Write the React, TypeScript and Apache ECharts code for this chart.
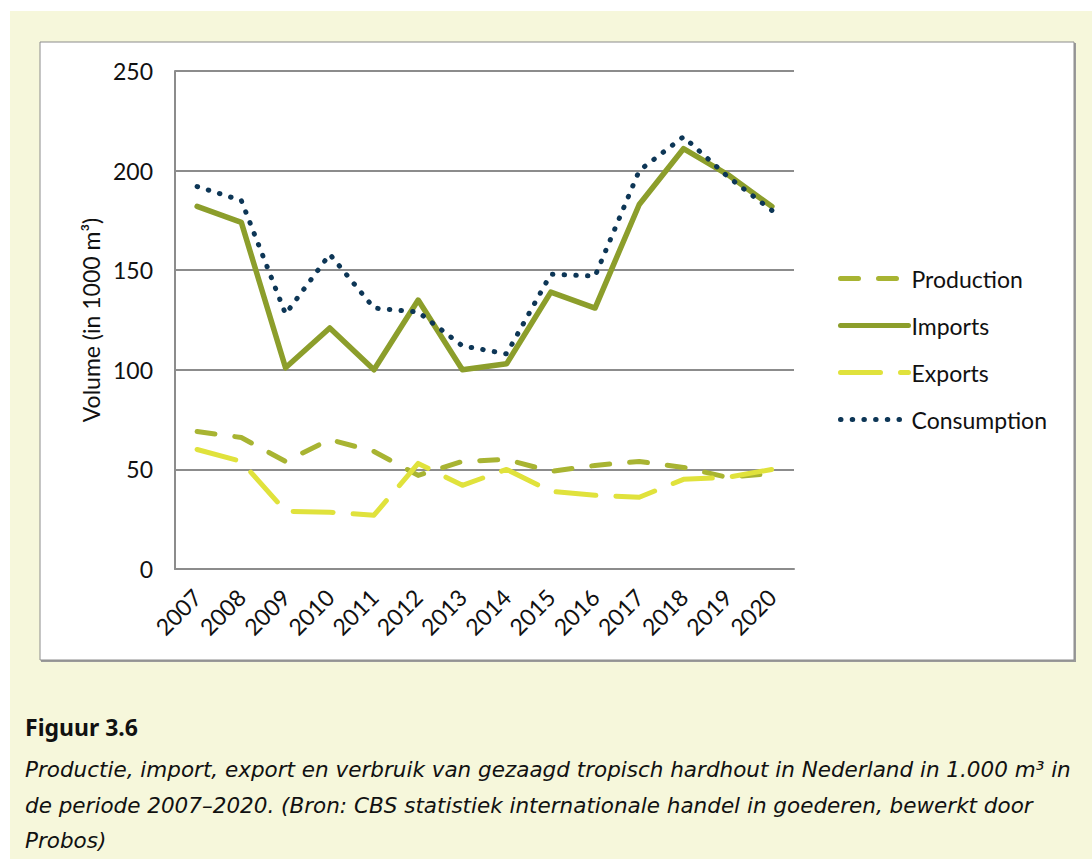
import React, { useEffect, useRef } from "react";
import * as echarts from "echarts";

const years = ["2007","2008","2009","2010","2011","2012","2013","2014","2015","2016","2017","2018","2019","2020"];
const production = [69, 66, 54, 65, 59, 47, 54, 55, 49, 52, 54, 51, 46, 48];
const imports = [182, 174, 101, 121, 100, 135, 100, 103, 139, 131, 183, 211, 198, 182];
const exportsData = [60, 54, 29, 28.5, 27, 53, 42, 50, 39, 37, 36, 45, 46, 50];
const consumption = [192, 185, 128, 158, 131, 129, 112, 108, 148, 147, 200, 217, 197, 180];

const chartFont = "Lato, 'Noto Sans', sans-serif";
const captionFont = "'DejaVu Sans', 'Noto Sans', sans-serif";

export default function App() {
  const ref = useRef<HTMLDivElement>(null);
  useEffect(() => {
    if (!ref.current) return;
    const chart = echarts.init(ref.current, undefined, { renderer: "svg" });
    chart.setOption({
      animation: false,
      backgroundColor: "#ffffff",
      textStyle: { fontFamily: chartFont },
      graphic: [
        { type: "rect", z: -10, shape: { x: 10, y: 11, width: 1082, height: 848 }, style: { fill: "#F6F7DB" } },
        { type: "rect", z: -9, shape: { x: 41, y: 43, width: 1035, height: 619 }, style: { fill: "#9a9a9a" } },
        { type: "rect", z: -8, shape: { x: 40, y: 42, width: 1034, height: 618 }, style: { fill: "#ffffff", stroke: "#8c8c8c", lineWidth: 1 } },
        { type: "text", x: 25, y: 727, style: { text: "Figuur 3.6", font: "bold 23px 'Noto Sans', sans-serif", fill: "#111", verticalAlign: "middle" } },
        { type: "text", x: 25, y: 769, style: { text: "Productie, import, export en verbruik van gezaagd tropisch hardhout in Nederland in 1.000 m³ in", font: "oblique 21.5px " + captionFont, fill: "#111", verticalAlign: "middle" } },
        { type: "text", x: 25, y: 805, style: { text: "de periode 2007–2020. (Bron: CBS statistiek internationale handel in goederen, bewerkt door", font: "oblique 21.5px " + captionFont, fill: "#111", verticalAlign: "middle" } },
        { type: "text", x: 25, y: 840, style: { text: "Probos)", font: "oblique 21.5px " + captionFont, fill: "#111", verticalAlign: "middle" } },
      ],
      grid: { left: 175, top: 71, width: 619, height: 498, containLabel: false },
      legend: {
        orient: "vertical",
        left: 833,
        top: 262,
        itemWidth: 68,
        itemHeight: 14,
        itemGap: 24,
        itemStyle: { opacity: 0 },
        lineStyle: { width: 5, cap: "round", type: "inherit" },
        textStyle: { fontSize: 23, color: "#111", fontFamily: chartFont, padding: [0, 0, 0, -2] },
        data: ["Production", "Imports", "Exports", "Consumption"],
      },
      xAxis: {
        type: "category",
        data: years,
        boundaryGap: true,
        axisLine: { lineStyle: { color: "#8c8c8c", width: 2 } },
        axisTick: { show: false },
        axisLabel: { rotate: 45, fontSize: 23, color: "#111", margin: 24 },
      },
      yAxis: {
        type: "value",
        min: 0,
        max: 250,
        interval: 50,
        name: "Volume (in 1000 m³)",
        nameLocation: "middle",
        nameGap: 73,
        nameTextStyle: { fontSize: 23, color: "#111" },
        axisLine: { show: true, lineStyle: { color: "#8c8c8c", width: 2 } },
        axisTick: { show: false },
        axisLabel: { fontSize: 23, color: "#111", margin: 22 },
        splitLine: { lineStyle: { color: "#8c8c8c", width: 2 } },
      },
      series: [
        {
          name: "Production",
          type: "line",
          data: production,
          symbol: "none",
          itemStyle: { color: "#A8B432" },
          lineStyle: { color: "#A8B432", width: 5, type: [18, 20], cap: "round", join: "round" },
        },
        {
          name: "Imports",
          type: "line",
          data: imports,
          symbol: "none",
          itemStyle: { color: "#8C9E2B" },
          lineStyle: { color: "#8C9E2B", width: 5.5, cap: "round", join: "round" },
        },
        {
          name: "Exports",
          type: "line",
          data: exportsData,
          symbol: "none",
          itemStyle: { color: "#E0E23C" },
          lineStyle: { color: "#E0E23C", width: 5, type: [40, 20], cap: "round", join: "round" },
        },
        {
          name: "Consumption",
          type: "line",
          data: consumption,
          symbol: "none",
          itemStyle: { color: "#0D3656" },
          lineStyle: { color: "#0D3656", width: 5, type: [0.5, 11.2], cap: "round", join: "round" },
        },
      ],
    });
    return () => chart.dispose();
  }, []);
  return (
    <div
      ref={ref}
      style={{ position: "fixed", left: 0, top: 0, width: 1092, height: 859 }}
    />
  );
}
